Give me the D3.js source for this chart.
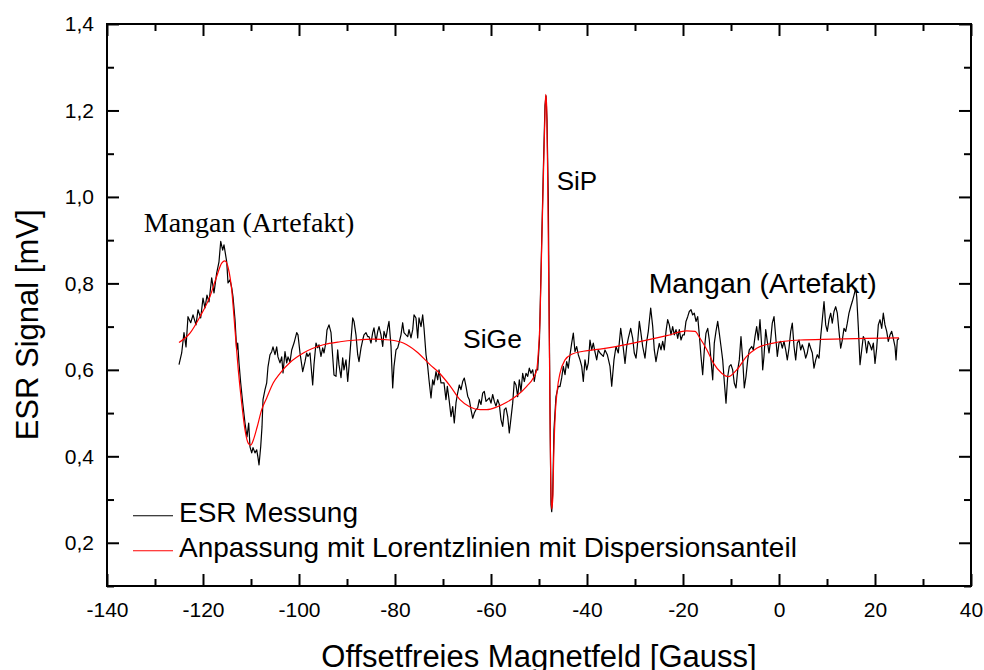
<!DOCTYPE html>
<html lang="de">
<head>
  <meta charset="UTF-8">
  <title>ESR Messung</title>
  <style type="text/css" media="all">
    body { margin: 0; background: #fff; }
    svg { display: block; }
    .axis text { font-family: "Liberation Sans", Arial, sans-serif; font-size: 21px; fill: #000; }
    .axis path, .axis line { stroke: #000; stroke-width: 2px; }
    .label { font-family: "Liberation Sans", Arial, sans-serif; fill: #000; }
  </style>
</head>
<body>
  <div id="graph"></div>
  <script src="https://cdn.jsdelivr.net/npm/d3@7/dist/d3.min.js" charset="utf-8"></script>
  <script>
    // ESR Messung: [Magnetfeld (Gauss), Signal (mV)]
    var messung = [
      [-125.0,0.612],[-124.44,0.639],[-123.96,0.686],[-123.54,0.653],[-123.13,0.723],[-122.56,0.709],
      [-122.08,0.727],[-121.46,0.704],[-121.04,0.739],[-120.48,0.720],[-120.0,0.766],[-119.58,0.743],
      [-119.17,0.773],[-118.75,0.757],[-118.19,0.813],[-117.71,0.778],[-117.15,0.824],[-116.67,0.850],
      [-116.31,0.897],[-115.90,0.877],[-115.63,0.889],[-115.06,0.850],[-114.79,0.801],[-114.38,0.808],
      [-114.02,0.790],[-113.75,0.769],[-113.33,0.716],[-112.98,0.646],[-112.77,0.662],[-112.5,0.616],
      [-112.15,0.570],[-111.73,0.524],[-111.25,0.477],[-110.83,0.445],[-110.48,0.477],[-110.21,0.422],
      [-109.85,0.408],[-109.58,0.420],[-109.17,0.408],[-108.81,0.415],[-108.54,0.397],[-108.33,0.380],
      [-107.98,0.422],[-107.71,0.468],[-107.5,0.531],[-107.08,0.554],[-106.73,0.570],[-106.46,0.607],
      [-106.04,0.635],[-105.69,0.642],[-105.42,0.653],[-105.0,0.635],[-104.65,0.653],[-104.38,0.630],
      [-103.96,0.616],[-103.60,0.630],[-103.33,0.593],[-102.92,0.642],[-102.56,0.616],[-102.29,0.630],
      [-101.88,0.618],[-101.52,0.646],[-101.04,0.662],[-100.48,0.686],[-100.21,0.681],[-99.79,0.639],
      [-99.23,0.596],[-98.75,0.619],[-98.40,0.639],[-98.13,0.631],[-97.71,0.639],[-97.15,0.565],
      [-96.88,0.612],[-96.46,0.662],[-96.10,0.651],[-95.83,0.658],[-95.42,0.631],[-95.06,0.651],
      [-94.79,0.639],[-94.38,0.665],[-94.17,0.692],[-93.75,0.704],[-93.33,0.686],[-92.98,0.631],
      [-92.71,0.588],[-92.29,0.585],[-91.94,0.646],[-91.67,0.612],[-91.25,0.582],[-90.90,0.628],
      [-90.63,0.600],[-90.21,0.623],[-89.85,0.573],[-89.58,0.608],[-89.17,0.669],[-88.81,0.720],
      [-88.54,0.712],[-88.13,0.681],[-87.77,0.635],[-87.5,0.619],[-87.08,0.651],[-86.73,0.669],
      [-86.46,0.681],[-86.04,0.686],[-85.69,0.677],[-85.42,0.677],[-85.0,0.662],[-84.65,0.686],
      [-84.38,0.697],[-83.96,0.665],[-83.60,0.689],[-83.33,0.700],[-82.92,0.681],[-82.56,0.654],
      [-82.29,0.689],[-81.88,0.674],[-81.52,0.697],[-81.25,0.712],[-80.83,0.654],[-80.48,0.558],
      [-80.21,0.608],[-79.79,0.646],[-79.44,0.651],[-79.17,0.662],[-78.75,0.681],[-78.40,0.709],
      [-78.13,0.686],[-77.71,0.681],[-77.35,0.677],[-77.08,0.693],[-76.67,0.674],[-76.31,0.693],
      [-76.04,0.727],[-75.63,0.720],[-75.27,0.674],[-75.0,0.720],[-74.58,0.700],[-74.23,0.727],
      [-73.96,0.697],[-73.54,0.635],[-73.19,0.608],[-72.92,0.577],[-72.5,0.535],[-72.15,0.577],
      [-71.88,0.565],[-71.46,0.596],[-71.10,0.577],[-70.83,0.600],[-70.42,0.570],[-69.79,0.570],
      [-69.38,0.531],[-69.10,0.562],[-68.69,0.527],[-68.33,0.492],[-67.98,0.515],[-67.65,0.477],
      [-67.29,0.524],[-66.94,0.547],[-66.60,0.565],[-66.25,0.554],[-65.90,0.573],[-65.56,0.581],
      [-65.21,0.562],[-64.85,0.539],[-64.52,0.531],[-64.17,0.508],[-63.81,0.488],[-63.48,0.500],
      [-63.13,0.508],[-62.77,0.512],[-62.44,0.531],[-62.08,0.520],[-61.73,0.546],[-61.40,0.550],
      [-61.04,0.527],[-60.69,0.531],[-60.35,0.535],[-60.0,0.523],[-59.65,0.543],[-59.31,0.527],
      [-58.96,0.516],[-58.60,0.531],[-58.27,0.520],[-57.92,0.485],[-57.56,0.469],[-57.23,0.508],
      [-56.88,0.512],[-56.52,0.492],[-56.19,0.454],[-55.83,0.489],[-55.48,0.523],[-55.15,0.573],
      [-54.79,0.565],[-54.44,0.538],[-54.10,0.577],[-53.75,0.550],[-53.40,0.592],[-53.06,0.573],
      [-52.71,0.592],[-52.35,0.585],[-52.02,0.604],[-51.67,0.592],[-51.31,0.600],[-50.98,0.573],
      [-50.63,0.600],[-50.27,0.600],[-49.90,0.671],[-49.48,0.877],[-49.10,1.061],[-48.75,1.212],
      [-48.54,1.234],[-48.33,1.178],[-48.06,0.993],[-47.85,0.693],[-47.65,0.438],[-47.5,0.288],
      [-47.35,0.272],[-47.15,0.311],[-46.88,0.462],[-46.46,0.538],[-45.98,0.562],[-45.63,0.561],
      [-45.27,0.582],[-44.94,0.608],[-44.58,0.589],[-44.23,0.619],[-43.90,0.604],[-43.54,0.635],
      [-43.19,0.662],[-42.85,0.685],[-42.5,0.642],[-42.15,0.654],[-41.81,0.635],[-41.46,0.623],
      [-41.10,0.608],[-40.77,0.573],[-40.42,0.623],[-40.06,0.600],[-39.73,0.616],[-39.38,0.669],
      [-39.02,0.646],[-38.69,0.662],[-38.33,0.641],[-37.98,0.623],[-37.65,0.646],[-37.29,0.639],
      [-36.60,0.631],[-36.25,0.646],[-35.77,0.635],[-35.21,0.608],[-34.85,0.562],[-34.38,0.623],
      [-33.96,0.654],[-33.48,0.639],[-32.98,0.696],[-32.56,0.662],[-32.08,0.615],[-31.73,0.654],
      [-31.40,0.673],[-30.90,0.696],[-30.48,0.673],[-30.15,0.639],[-29.79,0.627],[-29.52,0.654],
      [-29.10,0.712],[-28.81,0.689],[-28.40,0.654],[-27.92,0.627],[-27.56,0.666],[-27.23,0.689],
      [-26.73,0.743],[-26.31,0.700],[-25.98,0.646],[-25.63,0.619],[-25.27,0.642],[-24.94,0.661],
      [-24.58,0.646],[-24.23,0.666],[-23.90,0.646],[-23.54,0.689],[-23.19,0.716],[-22.85,0.704],
      [-22.5,0.681],[-22.15,0.700],[-21.81,0.681],[-21.46,0.693],[-21.10,0.673],[-20.77,0.693],
      [-20.42,0.669],[-20.06,0.681],[-19.73,0.681],[-19.38,0.712],[-19.02,0.723],[-18.69,0.735],
      [-18.33,0.739],[-17.98,0.727],[-17.65,0.731],[-17.29,0.712],[-16.94,0.723],[-16.60,0.681],
      [-16.25,0.631],[-15.90,0.589],[-15.56,0.646],[-15.21,0.685],[-14.85,0.696],[-14.52,0.669],
      [-14.17,0.623],[-13.81,0.577],[-13.48,0.662],[-13.13,0.689],[-12.77,0.712],[-12.44,0.685],
      [-12.08,0.654],[-11.73,0.623],[-11.40,0.573],[-11.04,0.523],[-10.69,0.584],[-10.35,0.608],
      [-10.0,0.612],[-9.65,0.600],[-9.31,0.569],[-8.96,0.558],[-8.60,0.600],[-8.27,0.623],
      [-7.92,0.677],[-7.56,0.623],[-7.23,0.558],[-6.88,0.584],[-6.52,0.623],[-6.19,0.646],
      [-5.69,0.654],[-5.35,0.646],[-5.0,0.677],[-4.65,0.700],[-4.31,0.669],[-3.96,0.716],
      [-3.60,0.654],[-3.40,0.600],[-3.13,0.631],[-2.77,0.693],[-2.44,0.666],[-2.08,0.639],
      [-1.73,0.669],[-1.40,0.708],[-1.04,0.723],[-0.69,0.677],[-0.35,0.631],[0.0,0.662],
      [0.35,0.666],[0.69,0.650],[1.04,0.666],[1.40,0.646],[1.73,0.623],[2.08,0.650],
      [2.44,0.689],[2.77,0.708],[3.13,0.654],[3.48,0.623],[3.81,0.662],[4.17,0.669],
      [4.52,0.646],[4.85,0.658],[5.21,0.646],[5.56,0.627],[5.90,0.639],[6.25,0.662],
      [6.60,0.650],[6.94,0.639],[7.29,0.604],[7.65,0.623],[7.98,0.635],[8.33,0.627],
      [8.69,0.677],[9.02,0.716],[9.38,0.758],[9.73,0.704],[10.06,0.689],[10.42,0.716],
      [10.77,0.731],[11.10,0.708],[11.46,0.735],[11.81,0.746],[12.15,0.731],[12.5,0.689],
      [12.85,0.650],[13.19,0.669],[13.54,0.696],[13.90,0.689],[14.23,0.708],[14.58,0.731],
      [14.94,0.746],[15.27,0.758],[15.63,0.773],[15.98,0.789],[16.19,0.769],[16.52,0.700],
      [16.88,0.612],[17.23,0.646],[17.56,0.677],[17.92,0.669],[18.27,0.639],[18.60,0.666],
      [18.96,0.658],[19.31,0.646],[19.65,0.662],[20.0,0.615],[20.35,0.650],[20.69,0.704],
      [21.04,0.716],[21.40,0.696],[21.73,0.731],[22.08,0.704],[22.44,0.689],[22.77,0.666],
      [23.13,0.681],[23.48,0.689],[23.81,0.673],[24.17,0.654],[24.38,0.623],[24.65,0.669],
      [25.0,0.673]
    ];

    // Anpassung mit Lorentzlinien mit Dispersionsanteil
    var anpassung = [
      [-125.0,0.663],[-122.71,0.685],[-120.63,0.723],[-118.54,0.770],[-117.15,0.816],[-116.10,0.847],
      [-115.42,0.852],[-114.73,0.835],[-114.02,0.785],[-113.33,0.692],[-112.65,0.600],[-111.94,0.523],
      [-111.25,0.461],[-110.56,0.430],[-110.06,0.426],[-109.38,0.442],[-108.69,0.469],[-107.77,0.508],
      [-106.73,0.535],[-105.35,0.570],[-103.96,0.592],[-101.88,0.617],[-99.10,0.639],[-94.94,0.658],
      [-91.46,0.665],[-87.98,0.669],[-84.52,0.671],[-81.04,0.669],[-78.27,0.662],[-75.48,0.642],
      [-72.71,0.612],[-70.63,0.591],[-68.54,0.563],[-66.46,0.531],[-64.38,0.514],[-62.29,0.508],
      [-60.90,0.508],[-58.81,0.514],[-56.73,0.525],[-54.65,0.540],[-52.56,0.562],[-51.19,0.581],
      [-50.48,0.600],[-50.15,0.639],[-49.79,0.716],[-49.44,0.885],[-49.10,1.040],[-48.75,1.195],
      [-48.60,1.237],[-48.40,1.209],[-48.19,1.040],[-47.98,0.809],[-47.77,0.578],[-47.56,0.347],
      [-47.35,0.278],[-47.15,0.299],[-46.88,0.423],[-46.60,0.500],[-46.19,0.554],[-45.63,0.592],
      [-44.58,0.623],[-43.19,0.636],[-40.77,0.643],[-37.29,0.648],[-30.35,0.662],[-23.40,0.679],
      [-19.23,0.690],[-17.5,0.689],[-16.46,0.673],[-15.06,0.647],[-13.69,0.616],[-11.94,0.592],
      [-10.56,0.584],[-8.81,0.600],[-6.73,0.631],[-4.65,0.650],[-1.19,0.662],[4.38,0.669],
      [11.31,0.671],[18.27,0.673],[25.0,0.674]
    ];

    var xMajor = [-140, -120, -100, -80, -60, -40, -20, 0, 20, 40];
    var xMinor = [-130, -110, -90, -70, -50, -30, -10, 10, 30];
    var yMajor = [0.2, 0.4, 0.6, 0.8, 1.0, 1.2, 1.4];
    var yMinor = [0.1, 0.3, 0.5, 0.7, 0.9, 1.1, 1.3];

    var legendLabels = ['ESR Messung', 'Anpassung mit Lorentzlinien mit Dispersionsanteil'];
    // text centre (Gauss) and baseline (mV)
    var annotations = [
      { text: 'Mangan (Artefakt)', x: -110.4, y: 0.918, serif: true, size: 28 },
      { text: 'SiP', x: -42.1, y: 1.016, size: 26 },
      { text: 'SiGe', x: -59.7, y: 0.651, size: 26.5 },
      { text: 'Mangan (Artefakt)', x: -3.4, y: 0.778, size: 28.5 }
    ];

    var margins = { top: 24, right: 13, bottom: 84, left: 107 };
    var width = 984 - margins.left - margins.right,
        height = 670 - margins.top - margins.bottom;

    var locale = d3.formatLocale({ decimal: ',', thousands: '.', grouping: [3], currency: ['', ' €'], minus: '-' });
    var fmtY = locale.format('.1f'),
        fmtX = locale.format('d');

    var x = d3.scaleLinear().domain([-140, 40]).range([0, width]);
    var y = d3.scaleLinear().domain([0.1, 1.4]).range([height, 0]);

    var svg = d3.select('#graph').append('svg')
        .attr('width', 984)
        .attr('height', 670);

    var g = svg.append('g')
        .attr('transform', 'translate(' + margins.left + ',' + margins.top + ')');

    // data lines
    var line = d3.line()
        .x(function(d) { return x(d[0]); })
        .y(function(d) { return y(d[1]); });

    g.append('path')
        .datum(messung)
        .attr('fill', 'none')
        .attr('stroke', '#000')
        .attr('stroke-width', 1.2)
        .attr('stroke-linejoin', 'round')
        .attr('d', line);

    g.append('path')
        .datum(anpassung)
        .attr('fill', 'none')
        .attr('stroke', '#ff0000')
        .attr('stroke-width', 1.2)
        .attr('d', line.curve(d3.curveMonotoneX));

    // axes: major ticks with labels, minor ticks, all pointing inward
    function addAxis(axisFn, scale, values, size, labels, transform) {
      var a = axisFn(scale).tickValues(values).tickSize(-size).tickSizeOuter(0);
      if (labels) {
        a.tickFormat(labels).tickPadding(axisFn === d3.axisBottom ? 16 : 13);
      } else {
        a.tickFormat('');
      }
      var sel = g.append('g').attr('class', 'axis').attr('transform', transform || null).call(a);
      sel.select('.domain').remove();
      return sel;
    }

    addAxis(d3.axisBottom, x, xMajor, 12, fmtX, 'translate(0,' + height + ')');
    addAxis(d3.axisBottom, x, xMinor, 7, null, 'translate(0,' + height + ')');
    addAxis(d3.axisTop, x, xMajor, 12, null);
    addAxis(d3.axisTop, x, xMinor, 7, null);
    addAxis(d3.axisLeft, y, yMajor, 12, fmtY);
    addAxis(d3.axisLeft, y, yMinor, 7, null);
    addAxis(d3.axisRight, y, yMajor, 12, null, 'translate(' + width + ',0)');
    addAxis(d3.axisRight, y, yMinor, 7, null, 'translate(' + width + ',0)');

    g.append('rect')
        .attr('width', width)
        .attr('height', height)
        .attr('fill', 'none')
        .attr('stroke', '#000')
        .attr('stroke-width', 2);

    // axis titles
    svg.append('text')
        .attr('class', 'label')
        .attr('x', margins.left + x(-50))
        .attr('y', 667)
        .attr('text-anchor', 'middle')
        .style('font-size', '31px')
        .text('Offsetfreies Magnetfeld [Gauss]');

    svg.append('text')
        .attr('class', 'label')
        .attr('transform', 'translate(38,' + (margins.top + y(0.704)) + ') rotate(-90)')
        .attr('text-anchor', 'middle')
        .style('font-size', '31px')
        .text('ESR Signal [mV]');

    // annotations
    g.selectAll('.annot')
        .data(annotations)
        .enter().append('text')
        .attr('class', 'label annot')
        .attr('x', function(d) { return x(d.x); })
        .attr('y', function(d) { return y(d.y); })
        .attr('text-anchor', 'middle')
        .style('font-family', function(d) { return d.serif ? '"Liberation Serif", "Times New Roman", serif' : null; })
        .style('font-size', function(d) { return d.size + 'px'; })
        .text(function(d) { return d.text; });

    // legend
    var legend = g.append('g').attr('transform', 'translate(26,' + (y(0.2) - 27) + ')');
    var legendColors = ['#000', '#ff0000'];
    legendLabels.forEach(function(label, i) {
      var row = legend.append('g').attr('transform', 'translate(0,' + (i * 35) + ')');
      row.append('line')
          .attr('x1', 0).attr('x2', 40)
          .attr('stroke', legendColors[i])
          .attr('stroke-width', 1.1);
      row.append('text')
          .attr('class', 'label')
          .attr('x', 46)
          .attr('y', 6)
          .style('font-size', '28px')
          .text(label);
    });
  </script>
</body>
</html>
